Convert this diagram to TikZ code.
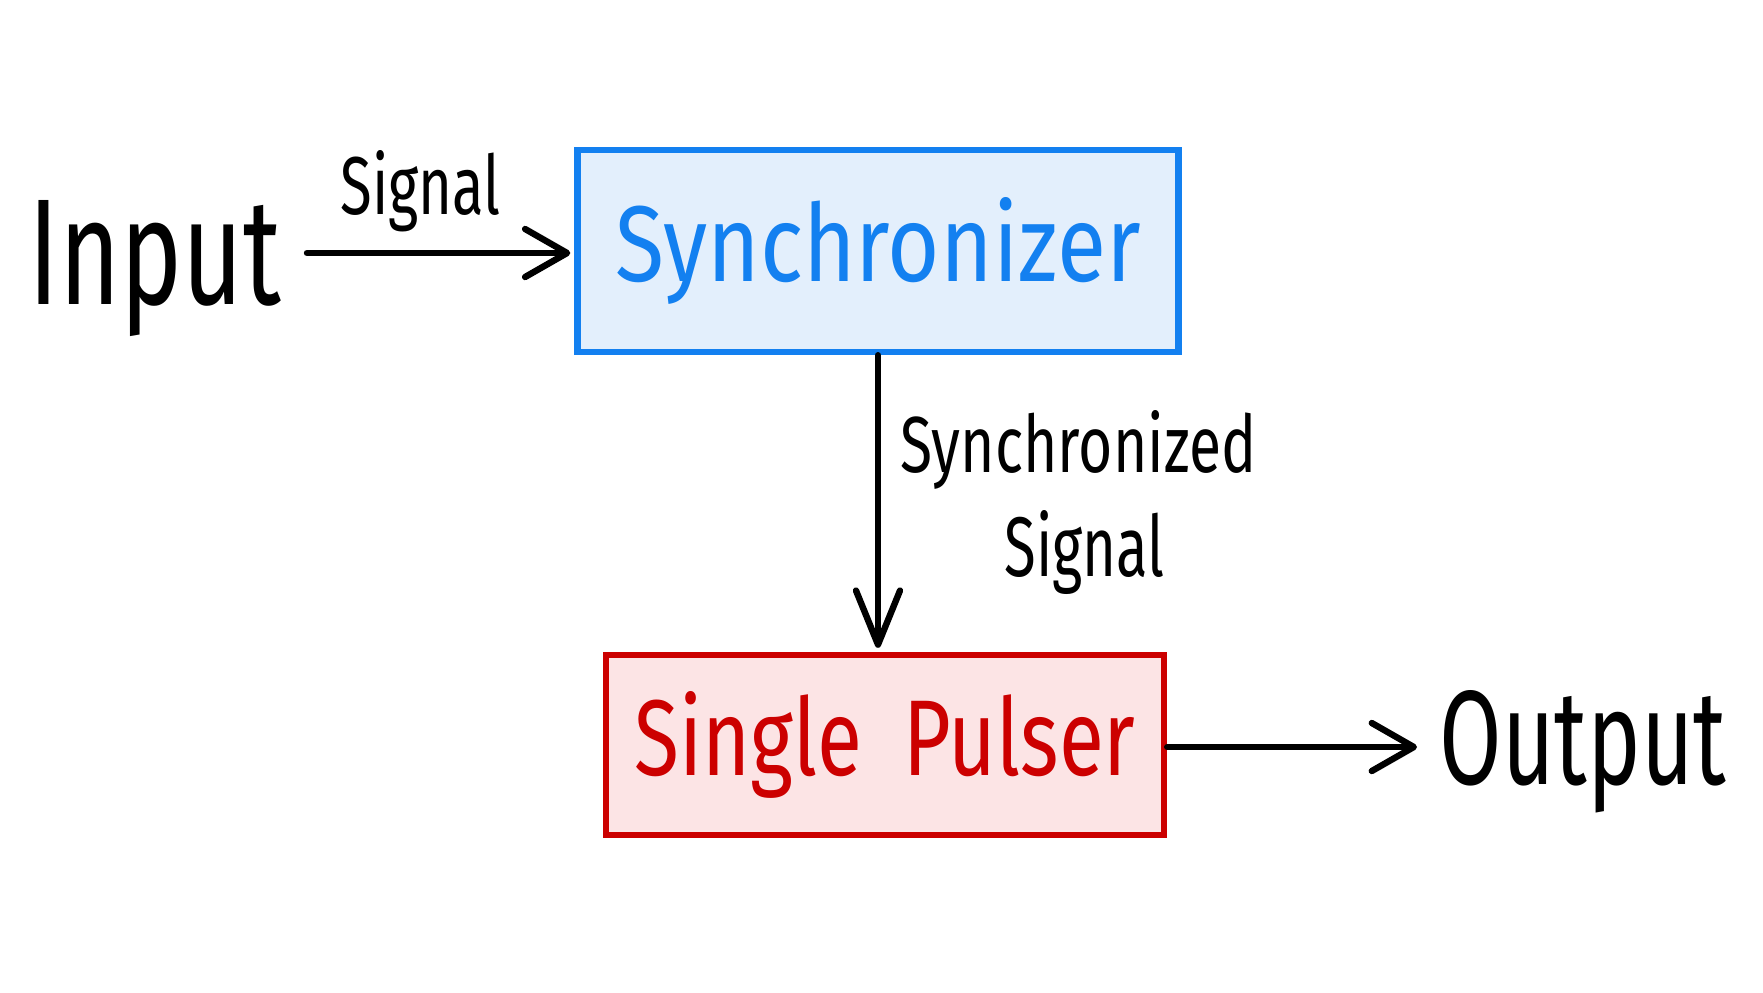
\documentclass[tikz,border=0pt]{standalone}
\usepackage{fontspec}
\setmainfont{Fira Sans}
\usetikzlibrary{arrows.meta}
\definecolor{bstroke}{HTML}{1380F0}
\definecolor{bfill}{HTML}{E3EFFC}
\definecolor{rstroke}{HTML}{CC0000}
\definecolor{rfill}{HTML}{FCE4E5}
\begin{document}
\begin{tikzpicture}[x=0.5pt,y=-0.5pt,
  conn/.style={line width=3.2pt, line cap=round, -{Straight Barb[length=21pt,width=24pt,line cap=round,line join=round]}},
  txt/.style={inner sep=0pt, anchor=base west},
  blk/.style={draw, line width=3.2pt, inner sep=0pt}]
\path[use as bounding box, fill=white] (0,0) rectangle (1763,992);
\node[blk, draw=bstroke, fill=bfill, text=bstroke, minimum width=300.5pt, minimum height=101pt] (sync) at (878,251) {\resizebox{262.5pt}{42pt}{Synchronizer}};
\node[blk, draw=rstroke, fill=rfill, text=rstroke, minimum width=279pt, minimum height=90pt] (pulse) at (885,745) {\resizebox{250.5pt}{42pt}{Single\hspace{0.5em}Pulser}};
\node[txt] (in) at (28,304) {\resizebox{126.5pt}{52pt}{Input}};
\node[txt] (out) at (1439,784) {\resizebox{143.5pt}{47pt}{Output}};
\node[txt] (lab1) at (340,214) {\resizebox{80pt}{32pt}{Signal}};
\node[txt] (lab2a) at (900,472) {\resizebox{178pt}{31pt}{Synchronized}};
\node[txt] (lab2b) at (1004,576) {\resizebox{80pt}{33pt}{Signal}};
\coordinate (inarr) at (307,253);
\draw[conn, shorten >=2pt] (inarr) -- (inarr -| sync.west);
\draw[conn, -{Straight Barb[length=27pt,width=22pt,line cap=round,line join=round]}, shorten >=2pt] (sync.south) -- (sync.south |- pulse.north);
\draw[conn, shorten >=11pt] ([yshift=-1pt]pulse.east) -- ([yshift=-1pt]pulse.east -| out.west);
\end{tikzpicture}
\end{document}
